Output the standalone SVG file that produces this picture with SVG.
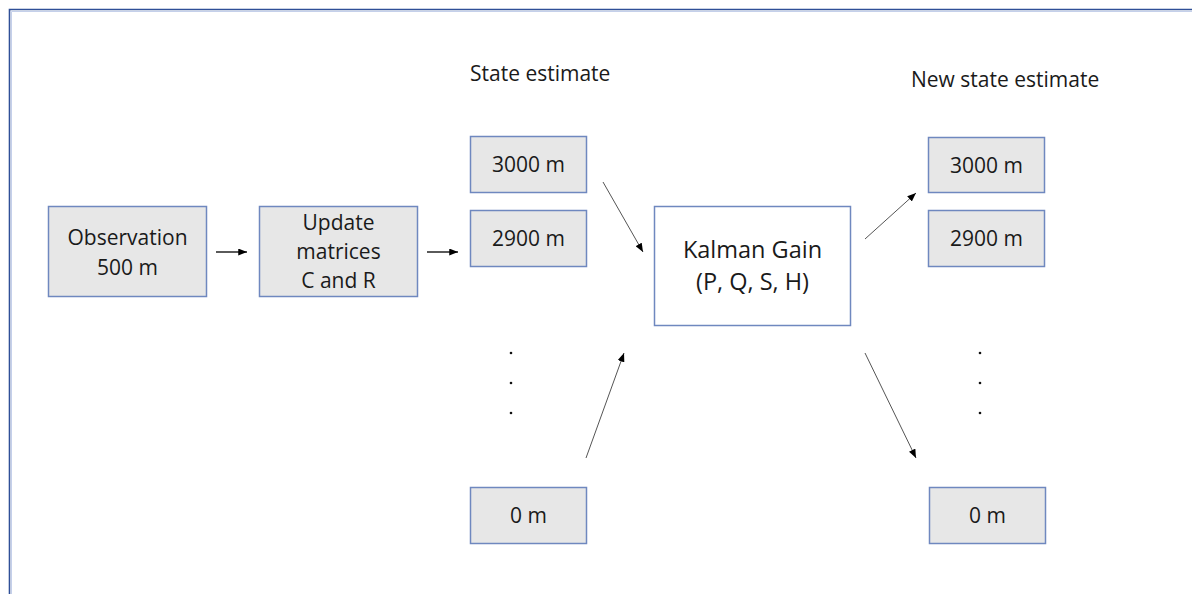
<svg xmlns="http://www.w3.org/2000/svg" width="1192" height="594" viewBox="0 0 1192 594">
<defs>
<style>
.box{fill:#e7e7e7;stroke:#6f88bf;stroke-width:1.5}
.kbox{fill:#ffffff;stroke:#6f88bf;stroke-width:1.5}
text{font-family:"Open Sans","Liberation Sans",sans-serif;font-size:21px;fill:#1a1a1a}
.c{text-anchor:middle}
.k{font-size:23.5px}
.h{stroke:#000;stroke-width:1.3;fill:none}
.d{stroke:#555;stroke-width:1;fill:none}
.dot{fill:#111}
</style>
<marker id="ah" viewBox="0 0 10 8" refX="10" refY="4" markerWidth="9" markerHeight="7" markerUnits="userSpaceOnUse" orient="auto">
<path d="M0,0 L10,4 L0,8 z" fill="#000"/>
</marker>
</defs>
<rect width="1192" height="594" fill="#fff"/>
<path d="M9.5,600 V9.5 H1200" fill="none" stroke="#2f4f97" stroke-width="1.6"/>
<path d="M11.5,600 V11.5 H1200" fill="none" stroke="#c5d0ea" stroke-width="1"/>
<text x="470" y="81">State estimate</text>
<text x="911" y="87">New state estimate</text>
<g id="observation"><rect class="box" x="48.5" y="206.5" width="158" height="90"/><text class="c" x="127.5" y="245">Observation</text><text class="c" x="127.5" y="275">500 m</text></g>
<g id="update"><rect class="box" x="259.5" y="206.5" width="158" height="90"/><text class="c" x="338.5" y="230">Update</text><text class="c" x="338.5" y="259">matrices</text><text class="c" x="338.5" y="288">C and R</text></g>
<g id="s3000"><rect class="box" x="470.5" y="136.5" width="116" height="56"/><text class="c" x="528.5" y="172">3000 m</text></g>
<g id="s2900"><rect class="box" x="470.5" y="210.5" width="116" height="56"/><text class="c" x="528.5" y="246">2900 m</text></g>
<g id="s0"><rect class="box" x="470.5" y="487.5" width="116" height="56"/><text class="c" x="528.5" y="523">0 m</text></g>
<g id="kalman"><rect class="kbox" x="654.5" y="206.5" width="196" height="119"/><text class="c k" x="752.5" y="258">Kalman Gain</text><text class="c k" x="752.5" y="290">(P, Q, S, H)</text></g>
<g id="n3000"><rect class="box" x="928.5" y="137.5" width="116" height="55"/><text class="c" x="986.5" y="173">3000 m</text></g>
<g id="n2900"><rect class="box" x="928.5" y="210.5" width="116" height="56"/><text class="c" x="986.5" y="246">2900 m</text></g>
<g id="n0"><rect class="box" x="929.5" y="487.5" width="116" height="56"/><text class="c" x="987.5" y="523">0 m</text></g>
<g id="dots">
<circle class="dot" cx="511" cy="353" r="1.3"/><circle class="dot" cx="511" cy="383" r="1.3"/><circle class="dot" cx="511" cy="413" r="1.3"/>
<circle class="dot" cx="980" cy="353" r="1.3"/><circle class="dot" cx="980" cy="383" r="1.3"/><circle class="dot" cx="980" cy="413" r="1.3"/>
</g>
<g id="connectors">
<line class="h" x1="216" y1="252" x2="247" y2="252" marker-end="url(#ah)"/>
<line class="h" x1="427" y1="252" x2="458" y2="252" marker-end="url(#ah)"/>
<line class="d" x1="603" y1="182" x2="643" y2="252" marker-end="url(#ah)"/>
<line class="d" x1="586" y1="458" x2="624" y2="353" marker-end="url(#ah)"/>
<line class="d" x1="865" y1="239" x2="916" y2="193" marker-end="url(#ah)"/>
<line class="d" x1="865" y1="353" x2="916" y2="458" marker-end="url(#ah)"/>
</g>
</svg>
